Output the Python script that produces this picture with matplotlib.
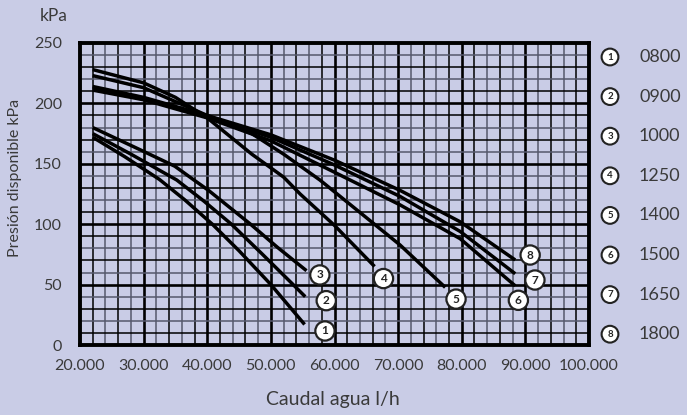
import numpy as np
import matplotlib
matplotlib.use("Agg")
import matplotlib.pyplot as plt

plt.rcParams['font.family'] = ['Lato', 'DejaVu Sans']

BG = '#c9cce6'
TXT = '#3a3a3a'

# curve data: caudal (l/h) vs presion disponible (kPa)
models = ['0800', '0900', '1000', '1250', '1400', '1500', '1650', '1800']

q1 = [22000, 27000, 32500, 36500, 40800, 45000, 50000, 55300]
p1 = [172, 156, 137, 120, 100, 78, 50, 17]
q2 = [22000, 28000, 35200, 39500, 43800, 48500, 53500, 55400]
p2 = [175, 158, 136.6, 119, 100, 76, 50, 40]
q3 = [22000, 29700, 34900, 37800, 40200, 43500, 46800, 51000, 55600]
p3 = [180, 161, 148, 137, 128, 114, 100, 81, 61.5]
q4 = [22000, 30000, 35000, 40000, 43500, 47000, 52000, 54600, 60000, 66300]
p4 = [228, 217, 205, 188, 173, 158, 139, 125, 99, 65]
q5 = [22000, 30000, 40000, 47000, 52000, 57700, 63000, 70300, 77400]
p5 = [223, 213, 190, 175, 158, 136.6, 114, 82.8, 47.7]
q6 = [22000, 30000, 40000, 50000, 60000, 70300, 79750, 88400]
p6 = [211, 203, 188, 169, 143, 116, 88, 49]
q7 = [22000, 30000, 40000, 50000, 60000, 70300, 79750, 88400]
p7 = [213, 204, 189, 172, 149, 123, 94, 59]
q8 = [22000, 30000, 40000, 50000, 60000, 70300, 79750, 88400]
p8 = [214, 205, 190, 174, 153, 128, 102, 70.4]

curves = [(q1, p1), (q2, p2), (q3, p3), (q4, p4),
          (q5, p5), (q6, p6), (q7, p7), (q8, p8)]

# where the circled numbers sit
label_q = [58500, 58700, 57700, 67700, 79100, 88900, 91500, 90750]
label_p = [11.6, 36.7, 58, 55, 38, 37, 53.8, 74.5]

xticks = [20000, 30000, 40000, 50000, 60000, 70000, 80000, 90000, 100000]
xticklabels = ['20.000', '30.000', '40.000', '50.000', '60.000',
               '70.000', '80.000', '90.000', '100.000']
yticks = [0, 50, 100, 150, 200, 250]

W, H = 687, 415
fig = plt.figure(figsize=(W/100, H/100), dpi=100, facecolor=BG)
ax = fig.add_axes([80/W, 1-345/H, 509/W, 302/H])
ax.set_facecolor(BG)
ax.set_xlim(20000, 100000)
ax.set_ylim(0, 250)

# grid: minor lines alternate dark / grey, major lines heavy
for i, x in enumerate(np.arange(22000, 100000, 2000)):
    if x % 10000 == 0:
        ax.axvline(x, color='black', lw=1.9, zorder=1)
    else:
        ax.axvline(x, color='black' if i % 2 == 0 else '#55586c', lw=1.1, zorder=1)
for i, y in enumerate(np.arange(10, 250, 10)):
    if y % 50 == 0:
        ax.axhline(y, color='black', lw=1.9, zorder=1)
    else:
        ax.axhline(y, color='black' if i % 2 == 0 else '#55586c', lw=1.1, zorder=1)

for q, p in curves:
    ax.plot(q, p, color='black', lw=2.5, solid_capstyle='butt', zorder=3)

for i, (lq, lp) in enumerate(zip(label_q, label_p)):
    ax.text(lq, lp, str(i + 1), ha='center', va='center', fontsize=8.5,
            fontweight='bold', color='#222222', zorder=5,
            bbox=dict(boxstyle='circle,pad=0.35', fc='white', ec='#222222', lw=1.6))

for s in ax.spines.values():
    s.set_linewidth(2.8)
    s.set_color('black')
    s.set_zorder(6)

ax.set_xticks(xticks)
ax.set_xticklabels(xticklabels)
ax.set_yticks(yticks)
ax.tick_params(length=0, labelsize=11.5, labelcolor=TXT)
ax.tick_params(axis='x', pad=10)
ax.tick_params(axis='y', pad=13)

fig.text(333/W, 1-399/H, 'Caudal agua l/h', fontsize=14, color=TXT,
         ha='center', va='center')
fig.text(15.5/W, 1-178/H, 'Presión disponible kPa', fontsize=11.5, color=TXT,
         ha='center', va='center', rotation=90)
fig.text(54/W, 1-16/H, 'kPa', fontsize=12.5, color=TXT, ha='center', va='center')

# legend on the right
for i, m in enumerate(models):
    yy = 1 - (57 + i*39.6)/H
    fig.text(610/W, yy, str(i + 1), ha='center', va='center', fontsize=7,
             fontweight='bold', color='#222222',
             bbox=dict(boxstyle='circle,pad=0.4', fc='white', ec='#222222', lw=1.5))
    fig.text(639/W, yy, m, ha='left', va='center', fontsize=13, color=TXT)

fig.savefig('out.png', dpi=100, facecolor=BG)
